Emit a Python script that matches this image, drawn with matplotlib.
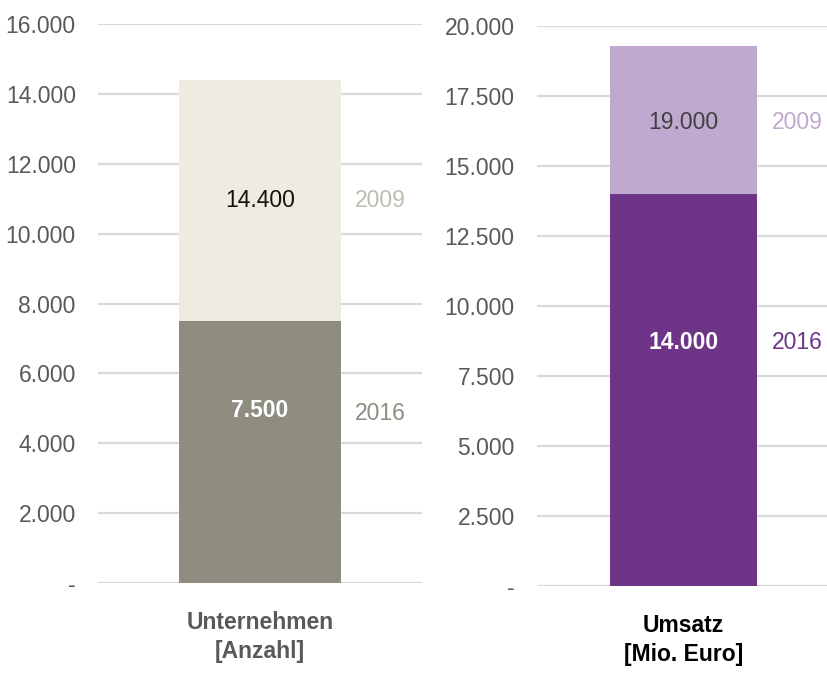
import matplotlib
matplotlib.use('Agg')
import matplotlib.pyplot as plt
from matplotlib import font_manager
from matplotlib.ticker import FuncFormatter

# narrow font if installed, else plain Liberation Sans a bit smaller
names = set(f.name for f in font_manager.fontManager.ttflist)
if 'Liberation Sans Narrow' in names:
    plt.rcParams['font.family'] = ['Liberation Sans Narrow', 'DejaVu Sans']
    fs = 18
else:
    plt.rcParams['font.family'] = ['Liberation Sans', 'DejaVu Sans']
    fs = 16.5

years = ['2009', '2016']

# Unternehmen [Anzahl]
firms_values = [14400, 7500]
firms_labels = ['14.400', '7.500']
firms_ticks = [0, 2000, 4000, 6000, 8000, 10000, 12000, 14000, 16000]

# Umsatz [Mio. Euro]
sales_values = [19300, 14000]
sales_labels = ['19.000', '14.000']
sales_ticks = [0, 2500, 5000, 7500, 10000, 12500, 15000, 17500, 20000]


def de_fmt(v, pos):
    if v == 0:
        return '-'
    return '{:,.0f}'.format(v).replace(',', '.')


fig = plt.figure(figsize=(8.27, 6.75), dpi=100)
ax1 = fig.add_axes([0.1185, 0.1363, 0.3918, 0.8281])
ax2 = fig.add_axes([0.6493, 0.1319, 0.3507, 0.8296])

grid_col = '#d9d9d9'
tick_col = '#595959'


def style(ax, ticks, ymax, xlim):
    ax.set_ylim(0, ymax)
    ax.set_xlim(*xlim)
    ax.set_yticks(ticks)
    ax.yaxis.set_major_formatter(FuncFormatter(de_fmt))
    for s in ax.spines.values():
        s.set_visible(False)
    ax.grid(axis='y', color=grid_col, linewidth=1.6)
    ax.set_axisbelow(True)
    ax.tick_params(axis='y', length=0, pad=16, labelsize=fs, labelcolor=tick_col)
    ax.tick_params(axis='x', length=0, pad=20, labelsize=fs)


style(ax1, firms_ticks, 16000, (-0.5, 0.5))
style(ax2, sales_ticks, 20000, (-0.505, 0.495))

# left panel: bars overlap (2009 behind 2016)
ax1.bar(0, firms_values[0], width=0.497, color='#eeebe0', zorder=2)
ax1.bar(0, firms_values[1], width=0.497, color='#8e8d80', zorder=3)
ax1.text(0, 10950, firms_labels[0], ha='center', va='center', fontsize=fs, color='#111111', zorder=4)
ax1.text(0, 4950, firms_labels[1], ha='center', va='center', fontsize=fs, color='white',
         fontweight='bold', zorder=4)
ax1.text(0.37, 10950, years[0], ha='center', va='center', fontsize=fs, color='#bfbcae')
ax1.text(0.37, 4850, years[1], ha='center', va='center', fontsize=fs, color='#8e8d80')
ax1.set_xticks([0], ['Unternehmen\n[Anzahl]'], fontweight='bold', color='#595959',
               linespacing=1.35)

# right panel
ax2.bar(0, sales_values[0], width=0.507, color='#bfa9cf', zorder=2)
ax2.bar(0, sales_values[1], width=0.507, color='#6e3488', zorder=3)
ax2.text(0, 16550, sales_labels[0], ha='center', va='center', fontsize=fs, color='#404040', zorder=4)
ax2.text(0, 8680, sales_labels[1], ha='center', va='center', fontsize=fs, color='white',
         fontweight='bold', zorder=4)
ax2.text(0.392, 16550, years[0], ha='center', va='center', fontsize=fs, color='#bfa9cf')
ax2.text(0.392, 8680, years[1], ha='center', va='center', fontsize=fs, color='#6e3488')
ax2.set_xticks([0], ['Umsatz\n[Mio. Euro]'], fontweight='bold', color='black',
               linespacing=1.35)

fig.savefig('out.png', dpi=100)
